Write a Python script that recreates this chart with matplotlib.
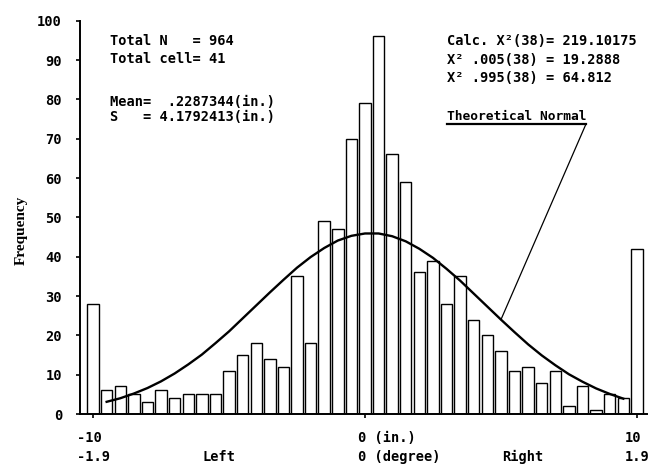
import numpy as np
import matplotlib
matplotlib.use("Agg")
import matplotlib.pyplot as plt
from matplotlib.lines import Line2D

# cell centres (in.) and observed counts
cells = np.arange(-10, 10.5, 0.5)
counts = [28, 6, 7, 5, 3, 6, 4, 5, 5, 5,
          11, 15, 18, 14, 12, 35, 18, 49, 47, 70,
          79, 96, 66, 59, 36, 39, 28, 35, 24, 20,
          16, 11, 12, 8, 11, 2, 7, 1, 5, 4, 42]

# theoretical normal curve
curve_x = np.arange(-9.5, 10.0, 0.5)
curve_y = [3.1, 4.0, 5.2, 6.6, 8.3, 10.3, 12.6, 15.1, 18.0, 21.0,
           24.3, 27.6, 30.9, 34.1, 37.2, 39.9, 42.2, 44.1, 45.3, 45.9,
           45.9, 45.2, 43.9, 42.0, 39.7, 36.9, 33.9, 30.6, 27.3, 24.0,
           20.8, 17.7, 14.9, 12.4, 10.1, 8.2, 6.5, 5.1, 3.9]

yticks = list(range(0, 101, 10))

W, H = 661, 466
mono = ['DejaVu Sans Mono']
fs = 9.8

fig = plt.figure(figsize=(W / 100, H / 100), dpi=100)
ax = fig.add_axes([80 / W, (H - 414) / H, 567 / W, 393.3 / H])

ax.bar(cells, counts, width=0.42, facecolor='white', edgecolor='black', linewidth=1.0)
ax.plot(curve_x, curve_y, color='black', linewidth=1.7)

ax.set_xlim(-10.48, 10.37)
ax.set_ylim(0, 100)
for s in ['top', 'right']:
    ax.spines[s].set_visible(False)
for s in ['left', 'bottom']:
    ax.spines[s].set_linewidth(1.4)

ax.set_yticks(yticks)
ax.set_yticklabels([str(v) for v in yticks], family=mono, fontsize=fs, weight='bold')
ax.tick_params(axis='y', direction='out', length=3, width=1.2, pad=10)
ax.set_xticks([-10, 0, 10])
ax.set_xticklabels(['', '', ''])
ax.tick_params(axis='x', direction='out', length=3, width=1.2)


def ftext(x, y, s, size=fs, **kw):
    # place text by pixel position (y = baseline from top)
    fig.text(x / W, 1 - y / H, s, family=mono, fontsize=size, weight='bold',
             va='baseline', ha='left', **kw)


# x axis labels
ftext(77, 442, '-10')
ftext(77, 461, '-1.9')
ftext(202, 461, 'Left')
ftext(358, 442, '0 (in.)')
ftext(358, 461, '0 (degree)')
ftext(502, 461, 'Right')
ftext(625, 442, '10')
ftext(625, 461, '1.9')

fig.text(21 / W, 1 - 230 / H, 'Frequency', rotation=90, family='Liberation Serif',
         fontsize=11, weight='bold', ha='center', va='center')

# statistics block (left)
ftext(110, 45, 'Total N   = 964')
ftext(110, 63, 'Total cell= 41')
ftext(110, 106, 'Mean=  .2287344(in.)')
ftext(110, 121, 'S   = 4.1792413(in.)')

# chi-square block (right)
ftext(447, 45, 'Calc. X²(38)= 219.10175')
ftext(447, 64, 'X² .005(38) = 19.2888')
ftext(447, 82, 'X² .995(38) = 64.812')
ftext(447, 120, 'Theoretical Normal', size=9.3)
fig.add_artist(Line2D([447 / W, 586 / W], [1 - 124 / H, 1 - 124 / H],
                      transform=fig.transFigure, color='black', linewidth=1.6))
ax.annotate('', xy=(5.0, 24.0), xycoords='data',
            xytext=(586, H - 124), textcoords='figure pixels',
            arrowprops=dict(arrowstyle='-', color='black', linewidth=0.9,
                            shrinkA=0, shrinkB=0))

fig.savefig('out.png', dpi=100)
